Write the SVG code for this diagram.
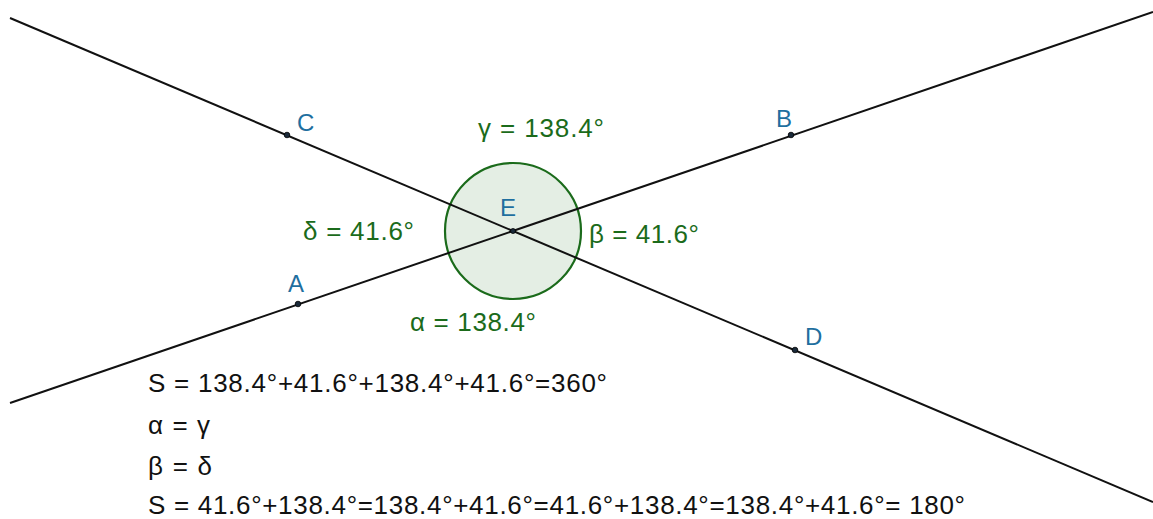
<svg xmlns="http://www.w3.org/2000/svg" width="1153" height="519" viewBox="0 0 1153 519">
<style>
.ln{stroke:#111;stroke-width:2;fill:none}
.pt{fill:#1a2a3a;stroke:#000;stroke-width:0.8}
.lbl{font-family:"Liberation Sans",Arial,sans-serif;font-size:24px;fill:#1f6f9f}
.ang{font-family:"Liberation Sans",Arial,sans-serif;font-size:26px;fill:#1b6b1b}
.eq{font-family:"Liberation Sans",Arial,sans-serif;font-size:26px;fill:#111}
</style>
<rect width="1153" height="519" fill="#fff"/>
<g id="angle-circle">
<circle cx="513" cy="231" r="68" fill="#e4eee4" stroke="#1b6b1b" stroke-width="2.2"/>
</g>
<g id="lines">
<line class="ln" x1="10" y1="403" x2="1153" y2="12"/>
<line class="ln" x1="10" y1="18" x2="1153" y2="502"/>
</g>
<g id="point-A"><circle class="pt" cx="298" cy="304" r="2.8"/><text class="lbl" x="288" y="292">A</text></g>
<g id="point-B"><circle class="pt" cx="791" cy="135" r="2.8"/><text class="lbl" x="776" y="127">B</text></g>
<g id="point-C"><circle class="pt" cx="287" cy="135" r="2.8"/><text class="lbl" x="297" y="131">C</text></g>
<g id="point-D"><circle class="pt" cx="795" cy="350" r="2.8"/><text class="lbl" x="805" y="345">D</text></g>
<g id="point-E"><circle class="pt" cx="513" cy="231" r="2.5"/><text class="lbl" x="500" y="216">E</text></g>
<g id="angle-labels">
<text class="ang" x="478" y="137" textLength="126">γ = 138.4°</text>
<text class="ang" x="303" y="240" textLength="111">δ = 41.6°</text>
<text class="ang" x="589" y="243" textLength="110">β = 41.6°</text>
<text class="ang" x="410" y="331" textLength="126">α = 138.4°</text>
</g>
<g id="equations">
<text class="eq" x="148" y="392" textLength="459">S = 138.4°+41.6°+138.4°+41.6°=360°</text>
<text class="eq" x="148" y="434" textLength="62">α = γ</text>
<text class="eq" x="148" y="475" textLength="64">β = δ</text>
<text class="eq" x="148" y="514" textLength="817">S = 41.6°+138.4°=138.4°+41.6°=41.6°+138.4°=138.4°+41.6°= 180°</text>
</g>
</svg>
